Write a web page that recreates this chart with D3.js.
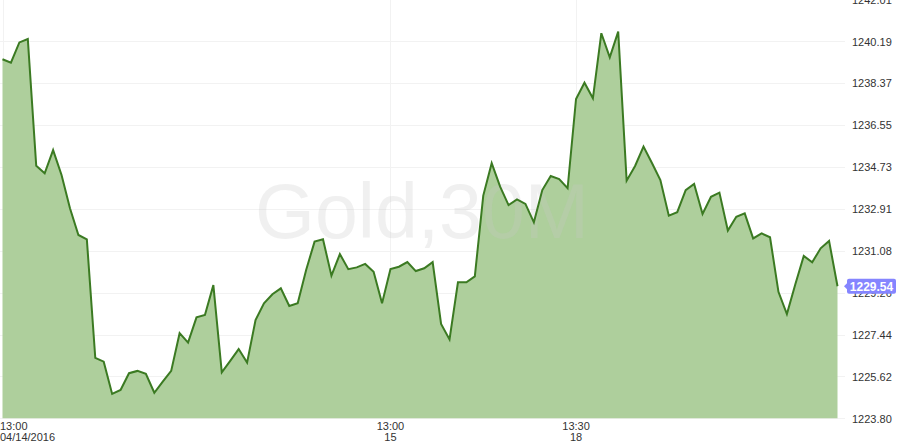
<!DOCTYPE html>
<html>
<head>
<meta charset="utf-8">
<script src="https://cdn.jsdelivr.net/npm/d3@7"></script>
<style>
  html, body { margin: 0; padding: 0; background: #fff; }
  svg { display: block; }
</style>
</head>
<body>
<svg id="chart" width="900" height="448"></svg>
<script>
// ---- data ----
const prices = [
  1239.41, 1239.26, 1240.14, 1240.29, 1234.78, 1234.45, 1235.46, 1234.38, 1232.93, 1231.77,
  1231.58, 1226.43, 1226.26, 1224.86, 1225.03, 1225.76, 1225.86, 1225.73, 1224.91, 1225.39,
  1225.86, 1227.50, 1227.09, 1228.19, 1228.29, 1229.59, 1225.80, 1226.30, 1226.81, 1226.22,
  1228.07, 1228.80, 1229.19, 1229.45, 1228.68, 1228.80, 1230.25, 1231.48, 1231.58, 1230.00,
  1230.94, 1230.28, 1230.36, 1230.51, 1230.17, 1228.80, 1230.29, 1230.39, 1230.59, 1230.20,
  1230.32, 1230.59, 1227.90, 1227.23, 1229.71, 1229.71, 1229.97, 1233.48, 1234.89, 1233.87,
  1233.07, 1233.32, 1233.12, 1232.32, 1233.72, 1234.33, 1234.20, 1233.80, 1237.68, 1238.39,
  1237.71, 1240.54, 1239.49, 1240.61, 1234.13, 1234.77, 1235.61, 1234.90, 1234.16, 1232.61,
  1232.76, 1233.72, 1233.99, 1232.68, 1233.43, 1233.61, 1231.96, 1232.56, 1232.71, 1231.62,
  1231.84, 1231.67, 1229.30, 1228.33, 1229.63, 1230.86, 1230.58, 1231.19, 1231.51, 1229.54
];
const yTickValues = [1223.80, 1225.62, 1227.44, 1229.26, 1231.08, 1232.91, 1234.73, 1236.55, 1238.37, 1240.19, 1242.01];
const yTickLabels = ["1223.80", "1225.62", "1227.44", "1229.26", "1231.08", "1232.91", "1234.73", "1236.55", "1238.37", "1240.19", "1242.01"];
const xTickIndex = [0, 46, 68];
const xTickTime = ["13:00", "13:00", "13:30"];
const xTickDate = ["04/14/2016", "15", "18"];
const lastPrice = 1229.54;
const lastPriceLabel = "1229.54";
const watermark = "Gold,30M";

// ---- layout ----
const svg = d3.select("#chart");
const plotLeft = 2.5, plotRight = 837.5, gridRight = 845;
const yDomain = [1223.80, 1242.01];

const x = d3.scaleLinear().domain([0, prices.length - 1]).range([plotLeft, plotRight]);
const y = d3.scaleLinear().domain(yDomain).range([418.3, -0.6]);

const font = "Arial, 'Liberation Sans', Helvetica, sans-serif";

// horizontal grid
svg.append("g")
  .selectAll("line")
  .data(yTickValues)
  .join("line")
  .attr("x1", 0).attr("x2", gridRight)
  .attr("y1", d => Math.round(y(d)) + 0.5)
  .attr("y2", d => Math.round(y(d)) + 0.5)
  .attr("stroke", "#f2f2f2").attr("stroke-width", 1);

// vertical grid
svg.append("g")
  .selectAll("line")
  .data(xTickIndex)
  .join("line")
  .attr("x1", d => Math.round(x(d)) + 0.5)
  .attr("x2", d => Math.round(x(d)) + 0.5)
  .attr("y1", 0).attr("y2", y(yDomain[0]))
  .attr("stroke", "#f2f2f2").attr("stroke-width", 1);

// area
const area = d3.area()
  .x((d, i) => x(i))
  .y0(y(yDomain[0]))
  .y1(d => y(d));
svg.append("path")
  .datum(prices)
  .attr("d", area)
  .attr("fill", "#aecf9c");

// watermark
svg.append("text")
  .attr("x", 422).attr("y", 238)
  .attr("text-anchor", "middle")
  .attr("font-family", font)
  .attr("font-size", 77)
  .attr("fill", "#c8c8c8")
  .attr("fill-opacity", 0.27)
  .text(watermark);

// line
const line = d3.line()
  .x((d, i) => x(i))
  .y(d => y(d));
svg.append("path")
  .datum(prices)
  .attr("d", line)
  .attr("fill", "none")
  .attr("stroke", "#3b7a22")
  .attr("stroke-width", 2)
  .attr("stroke-linejoin", "miter");

// right axis labels
const yAxis = d3.axisRight(y)
  .tickValues(yTickValues)
  .tickFormat((d, i) => yTickLabels[i])
  .tickSize(0)
  .tickPadding(0);
const gy = svg.append("g")
  .attr("transform", `translate(852,0)`)
  .call(yAxis);
gy.select(".domain").remove();
gy.selectAll("text")
  .attr("font-family", font)
  .attr("font-size", 11)
  .attr("fill", "#333")
  .attr("dy", "0.35em");

// bottom time labels
const gx = svg.append("g");
gx.selectAll("text.time")
  .data(xTickIndex)
  .join("text")
  .attr("class", "time")
  .attr("x", (d, i) => i === 0 ? 0 : x(d))
  .attr("y", 430)
  .attr("text-anchor", (d, i) => i === 0 ? "start" : "middle")
  .attr("font-family", font).attr("font-size", 11).attr("fill", "#333")
  .text((d, i) => xTickTime[i]);
gx.selectAll("text.date")
  .data(xTickIndex)
  .join("text")
  .attr("class", "date")
  .attr("x", (d, i) => i === 0 ? 0 : x(d))
  .attr("y", 441)
  .attr("text-anchor", (d, i) => i === 0 ? "start" : "middle")
  .attr("font-family", font).attr("font-size", 11).attr("fill", "#333")
  .text((d, i) => xTickDate[i]);

// last price label
const ly = y(lastPrice);
const bx = 847, bw = 49, bh = 15;
const tag = svg.append("g");
tag.append("path")
  .attr("d", `M${bx - 3},${ly} L${bx + 1},${ly - 4} L${bx + 1},${ly + 4} Z`)
  .attr("fill", "#8585ff");
tag.append("rect")
  .attr("x", bx).attr("y", ly - bh / 2)
  .attr("width", bw).attr("height", bh)
  .attr("rx", 2).attr("ry", 2)
  .attr("fill", "#8585ff");
tag.append("text")
  .attr("x", bx + bw / 2).attr("y", ly)
  .attr("dy", "0.36em")
  .attr("text-anchor", "middle")
  .attr("font-family", font).attr("font-size", 12).attr("font-weight", "bold")
  .attr("fill", "#fff")
  .text(lastPriceLabel);
</script>
</body>
</html>
